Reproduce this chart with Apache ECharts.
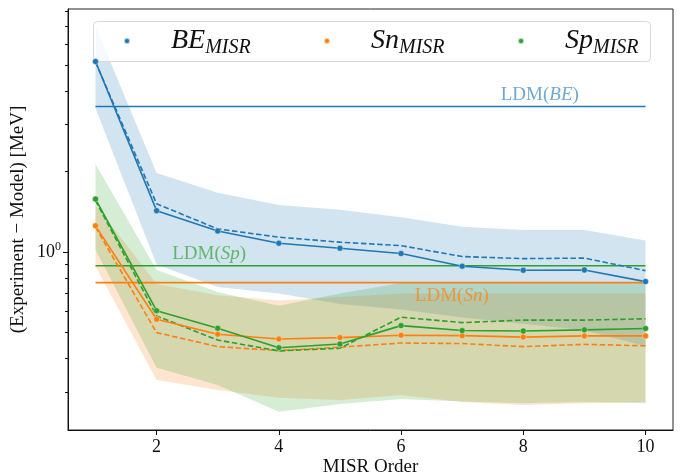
<!DOCTYPE html>
<html><head><meta charset="utf-8">
<script src="https://cdn.jsdelivr.net/npm/echarts@6/dist/echarts.min.js"></script>
<style>html,body{margin:0;padding:0;background:#fff}#c{width:680px;height:474px}</style>
</head><body><div id="c"></div>
<script>
const orders = [1,2,3,4,5,6,7,8,9,10];
const xTicks = [2,4,6,8,10];
const yMajorTicks = [1];
const yMinorTicks = [0.3,0.4,0.5,0.6,0.7,0.8,0.9,2,3,4,5,6,7,8];

const beSolid  = [5.17,1.43,1.20,1.08,1.035,0.988,0.886,0.856,0.858,0.776];
const beDashed = [5.15,1.517,1.222,1.138,1.090,1.058,0.963,0.946,0.950,0.853];
const beUpper  = [7.0,1.98,1.67,1.50,1.44,1.35,1.246,1.21,1.21,1.105];
const beLower  = [3.46,0.90,0.74,0.70,0.64,0.61,0.57,0.54,0.51,0.445];

const snSolid  = [1.255,0.561,0.493,0.473,0.479,0.489,0.487,0.481,0.486,0.486];
const snDashed = [1.24,0.500,0.443,0.428,0.441,0.457,0.455,0.443,0.452,0.446];
const snUpper  = [1.50,0.76,0.69,0.66,0.68,0.70,0.70,0.70,0.70,0.70];
const snLower  = [0.886,0.332,0.305,0.285,0.28,0.292,0.275,0.268,0.272,0.275];

const spSolid  = [1.58,0.604,0.519,0.439,0.453,0.531,0.509,0.507,0.512,0.518];
const spDashed = [1.56,0.577,0.469,0.427,0.437,0.571,0.545,0.557,0.557,0.563];
const spUpper  = [2.14,0.858,0.71,0.63,0.70,0.766,0.766,0.766,0.766,0.766];
const spLower  = [1.02,0.369,0.318,0.253,0.27,0.282,0.276,0.272,0.275,0.272];

const ldmNames  = ['BE','Sp','Sn'];
const ldmValues = [3.51,0.889,0.769];
const ldmLabelX = [8.27,2.86,6.83];
const ldmRange  = [1,10];

const FONT = 'Liberation Serif';
const COL = {BE:'#1f77b4', Sn:'#ff7f0e', Sp:'#2ca02c'};
const LABCOL = {BE:'rgba(31,119,180,0.8)', Sn:'rgba(255,127,14,0.85)', Sp:'rgba(44,160,44,0.85)'};
const FILL = {BE:'rgba(31,119,180,0.2)', Sn:'rgba(255,127,14,0.2)', Sp:'rgba(44,160,44,0.2)'};

const pairs = ys => orders.map((x,i)=>[x, ys[i]]);

function band(name, upper, lower) {
  return {
    type:'custom', name: name+'band', silent:true, z:1,
    data:[[0]],
    renderItem:(params, api) => {
      const pts = [];
      orders.forEach((x,i)=>pts.push(api.coord([x, upper[i]])));
      for (let i=orders.length-1;i>=0;i--) pts.push(api.coord([orders[i], lower[i]]));
      return {type:'polygon', shape:{points:pts}, style:{fill:FILL[name], stroke:null}};
    }
  };
}
function solid(name, ys) {
  return {type:'line', name:name, data:pairs(ys), z:4, symbol:'circle', symbolSize:6,
    showSymbol:true, color:COL[name],
    lineStyle:{width:1.6, color:COL[name]}, itemStyle:{color:COL[name], borderColor:'rgba(255,255,255,0.6)', borderWidth:0.6}};
}
function dashed(name, ys) {
  return {type:'line', name:name+'dash', data:pairs(ys), z:3, symbol:'none',
    lineStyle:{width:1.6, color:COL[name], type:[5.5,2.6]}};
}
const ldmLines = ldmNames.map((n,i)=>({type:'line', name:'LDM'+n, z:3, symbol:'none',
  data: ldmRange.map(x=>[x, ldmValues[i]]), lineStyle:{width:1.6, color:COL[n]}}));
const ldmLabels = ldmNames.map((n,i)=>({type:'scatter', name:'LDMlab'+n, z:5, symbolSize:0, silent:true,
  data:[[ldmLabelX[i], ldmValues[i]]],
  label:{show:true, position: n==='Sn' ? 'bottom':'top', distance: n==='Sn'?4:2,
    formatter:'{n|LDM(}{i|'+n+'}{n|)}',
    rich:{n:{fontFamily:FONT, fontSize:19, color:LABCOL[n]}, i:{fontFamily:FONT, fontSize:19, fontStyle:'italic', color:LABCOL[n]}}}}));

const legendRich = {m:{fontFamily:FONT, fontSize:28, fontStyle:'italic', color:'#111', lineHeight:30, padding:[0,0,0,18]},
                    s:{fontFamily:FONT, fontSize:20, fontStyle:'italic', color:'#111', verticalAlign:'bottom', padding:[13,0,0,0]}};
function legend(name, left) {
  return {data:[name], left:left, top:27, padding:0, itemWidth:42, itemHeight:6, icon:'circle', selectedMode:false,
    formatter: n => '{m|'+n+'}{s|MISR}', textStyle:{rich:legendRich}};
}

const chart = echarts.init(document.getElementById('c'), null, {renderer:'canvas'});
chart.setOption({
  animation:false,
  backgroundColor:'#fff',
  grid:{left:68, right:7, top:9, bottom:44, containLabel:false, outerBoundsMode:'none',
    show:true, borderColor:'#222', borderWidth:1, backgroundColor:'transparent'},
  graphic:[{type:'rect', left:93, top:21, z:3, shape:{width:557, height:40, r:4},
    style:{fill:'rgba(255,255,255,0.8)', stroke:'#d8d8d8', lineWidth:1}}],
  legend:[legend('BE',123), legend('Sn',323), legend('Sp',517)],
  xAxis:{type:'value', min:0.55, max:10.45, name:'MISR Order', nameLocation:'middle', nameGap:28, nameMoveOverlap:false,
    nameTextStyle:{fontFamily:FONT, fontSize:19, color:'#111'},
    axisLine:{show:true, lineStyle:{color:'#111', width:1}},
    axisTick:{show:true, customValues:xTicks, length:5, lineStyle:{color:'#111'}},
    axisLabel:{show:true, customValues:xTicks, fontFamily:FONT, fontSize:18, color:'#111', margin:8},
    splitLine:{show:false}},
  yAxis:[{type:'log', logBase:10, min:0.216, max:8.13, name:'(Experiment \u2212 Model) [MeV]',
    nameLocation:'middle', nameGap:40, nameRotate:90, nameMoveOverlap:false,
    nameTextStyle:{fontFamily:FONT, fontSize:19, color:'#111'},
    axisLine:{show:true, lineStyle:{color:'#111', width:1}},
    axisTick:{show:true, customValues:yMajorTicks, length:5, lineStyle:{color:'#111'}},
    axisLabel:{show:true, customValues:yMajorTicks, margin:7, formatter: v => '{b|10}{s|0}',
      rich:{b:{fontFamily:FONT, fontSize:18, color:'#111'}, s:{fontFamily:FONT, fontSize:12, color:'#111', verticalAlign:'top', padding:[0,0,10,0]}}},
    splitLine:{show:false}},
   {type:'log', logBase:10, min:0.216, max:8.13, position:'left',
    axisLine:{show:false}, axisTick:{show:true, customValues:yMinorTicks, length:3, lineStyle:{color:'#111'}},
    axisLabel:{show:false}, splitLine:{show:false}}],
  series:[
    band('BE', beUpper, beLower), band('Sn', snUpper, snLower), band('Sp', spUpper, spLower),
    ...ldmLines,
    dashed('BE', beDashed), dashed('Sn', snDashed), dashed('Sp', spDashed),
    solid('BE', beSolid), solid('Sn', snSolid), solid('Sp', spSolid),
    ...ldmLabels
  ]
});
</script></body></html>
